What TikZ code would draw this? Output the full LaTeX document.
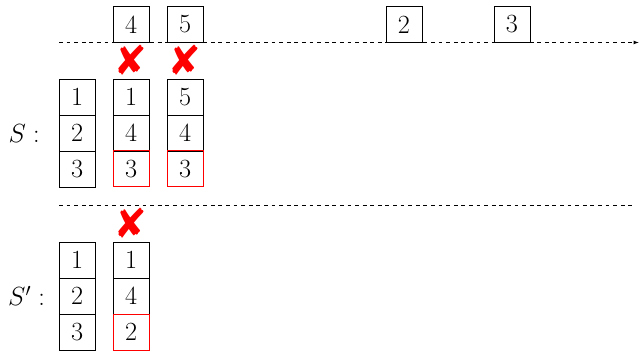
\documentclass[tikz,border=0pt]{standalone}
\usepackage{pifont}
\usetikzlibrary{positioning, arrows}
\tikzset{cell/.style={draw, line width=0.5pt, minimum size=1cm, inner sep=0pt, outer sep=0pt, font=\huge}}
\tikzset{redcell/.style={cell, draw=red, line width=0.65pt}}
\tikzset{dline/.style={draw, dashed}}
\tikzset{nope/.style={text=red, inner sep=0pt, font=\fontsize{33}{33}\selectfont}}
\tikzset{lbl/.style={font=\huge, inner sep=0pt}}

\begin{document}
\begin{tikzpicture}
	\useasboundingbox (0,-0.03) rectangle (17.75,9.72);
	% stack S
	\node[cell] (s11) at (2.14,7.03) {1};
	\node[cell, below=0 of s11] (s12) {2};
	\node[cell, below=0 of s12] (s13) {3};
	\node[cell, right=0.5 of s11] (s21) {1};
	\node[cell, below=0 of s21] (s22) {4};
	\node[redcell, below=0 of s22] (s23) {3};
	\node[cell, right=0.5 of s21] (s31) {5};
	\node[cell, below=0 of s31] (s32) {4};
	\node[redcell, below=0 of s32] (s33) {3};
	\node[lbl] (S) at (0.67,6.0) {$S:$};
	%
	% incoming boxes
	\node[cell, above=1.01 of s21] (t4) {4};
	\node[cell, right=0.5 of t4] (t5) {5};
	\node[cell, right=5.08 of t5] (t2) {2};
	\node[cell, right=2 of t2] (t3) {3};
	\coordinate (tl) at (1.64,8.54);
	\coordinate (tr) at (17.74,8.54);
	\draw[dline, -latex] (tl) -- (tr);
	\node[nope] (x4) at (3.64,8.04) {\ding{56}};
	\node[nope] (x5) at (5.14,8.04) {\ding{56}};
	%
	% stack S'
	\coordinate (ml) at (1.64,4.03);
	\coordinate (mr) at (17.64,4.03);
	\draw[dline] (ml) -- (mr);
	\node[cell] (p11) at (2.14,2.5) {1};
	\node[cell, below=0 of p11] (p12) {2};
	\node[cell, below=0 of p12] (p13) {3};
	\node[cell, right=0.5 of p11] (p21) {1};
	\node[cell, below=0 of p21] (p22) {4};
	\node[redcell, below=0 of p22] (p23) {2};
	\node[lbl] (Sp) at (0.74,1.5) {$S':$};
	\node[nope] (xp) at (3.64,3.52) {\ding{56}};
\end{tikzpicture}
\end{document}
